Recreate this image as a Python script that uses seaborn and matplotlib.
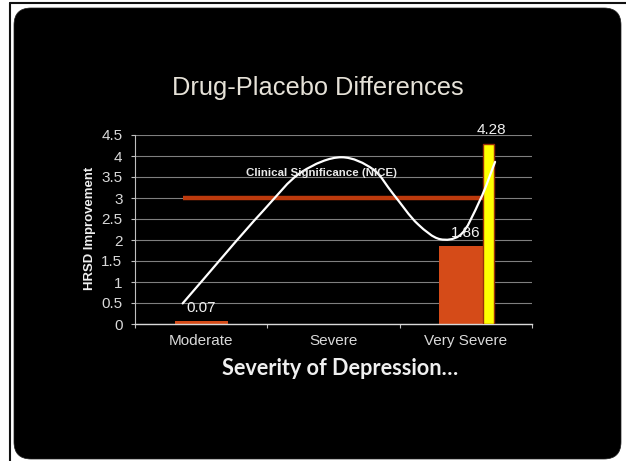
import numpy as np
import pandas as pd
import matplotlib
matplotlib.use("Agg")
import matplotlib.pyplot as plt
from matplotlib.patches import FancyBboxPatch, PathPatch
from matplotlib.path import Path
from matplotlib.lines import Line2D
from matplotlib.transforms import IdentityTransform
import seaborn as sns

# ---- data -------------------------------------------------------------
categories = ["Moderate", "Severe", "Very Severe"]
drug_placebo_diff = [0.07, np.nan, 1.86]
subgroup_diff = 4.28            # most severe subgroup, shown as a yellow bar
nice_threshold = 3.0            # clinical significance criterion (NICE)
nice_span = [-0.14, 2.13]       # extent of the threshold line (category units)
ytick_values = [0, 0.5, 1, 1.5, 2, 2.5, 3, 3.5, 4, 4.5]
ytick_labels = ["0", "0.5", "1", "1.5", "2", "2.5", "3", "3.5", "4", "4.5"]

# hand-drawn trend sketched across the severity range
trend_x = [-0.140, 0.467, 0.760, 1.062, 1.300, 1.450, 1.640, 1.805,
           1.950, 2.107, 2.221]
trend_y = [0.49, 2.69, 3.62, 3.97, 3.68, 3.10, 2.37, 2.02,
           2.10, 2.95, 3.86]

# ---- style ------------------------------------------------------------
sns.set_style("white")
plt.rcParams["font.family"] = ["Liberation Sans", "DejaVu Sans"]

ORANGE = "#d54b18"
RED_LINE = "#bd3a0d"
YELLOW = "#ffff00"
TEXT = "#f0f0f0"
TICK_TEXT = "#d9d9d9"

W, H = 626, 461
fig = plt.figure(figsize=(W / 100, H / 100), dpi=100, facecolor="white")

# slide background: rounded black panel with a thin frame line
panel = FancyBboxPatch((14, 2), 607, 451,
                       boxstyle="round,pad=0,rounding_size=17",
                       transform=IdentityTransform(), facecolor="black",
                       edgecolor="#202020", linewidth=0.5, zorder=-2)
fig.patches.append(panel)
fig.add_artist(Line2D([10, W], [H - 3, H - 3], transform=IdentityTransform(),
                      color="#111111", linewidth=1.5, zorder=-1))
fig.add_artist(Line2D([10, 10], [0, H - 3], transform=IdentityTransform(),
                      color="#111111", linewidth=1.5, zorder=-1))

ax = fig.add_axes([135 / W, 1 - 324 / H, (532 - 135) / W, (324 - 135) / H])
ax.patch.set_visible(False)

df = pd.DataFrame({"severity": categories, "diff": drug_placebo_diff}).dropna()
sns.barplot(data=df, x="severity", y="diff", order=categories, color=ORANGE,
            saturation=1, width=0.4, errorbar=None, linewidth=0, ax=ax,
            zorder=2)

# extra bar for the most severe subgroup
sub_x = 2 + 0.17
ax.bar(sub_x, subgroup_diff, width=0.083, color=YELLOW,
       edgecolor="#9c2e08", linewidth=1.0, zorder=3)

# NICE threshold line
ax.hlines(nice_threshold, nice_span[0], nice_span[1], color=RED_LINE,
          linewidth=3.2, zorder=2.5)
nice_txt = ax.text(0.907, 3.59, "Clinical Significance (NICE)", ha="center",
                   va="center", fontsize=7.3, fontweight="bold",
                   color="#e8e8e8", zorder=5)

# smooth trend curve: centripetal Catmull-Rom through the sketched points,
# computed in pixel-proportional space so the bends keep their shape
sx, sy = 132.3, 42.0
pts = np.column_stack([np.array(trend_x) * sx, np.array(trend_y) * sy])
ext = np.vstack([2 * pts[0] - pts[1], pts, 2 * pts[-1] - pts[-2]])
t = np.concatenate([[0], np.cumsum(np.linalg.norm(np.diff(ext, axis=0),
                                                  axis=1) ** 0.5)])
verts = [tuple(pts[0])]
codes = [Path.MOVETO]
for i in range(1, len(ext) - 2):
    p0, p1, p2, p3 = ext[i - 1], ext[i], ext[i + 1], ext[i + 2]
    t0, t1, t2, t3 = t[i - 1], t[i], t[i + 1], t[i + 2]
    m1 = (t2 - t1) * ((p1 - p0) / (t1 - t0) - (p2 - p0) / (t2 - t0)
                      + (p2 - p1) / (t2 - t1))
    m2 = (t2 - t1) * ((p2 - p1) / (t2 - t1) - (p3 - p1) / (t3 - t1)
                      + (p3 - p2) / (t3 - t2))
    c1 = p1 + m1 / 3.0
    c2 = p2 - m2 / 3.0
    verts += [tuple(c1), tuple(c2), tuple(p2)]
    codes += [Path.CURVE4, Path.CURVE4, Path.CURVE4]
verts = [(vx / sx, vy / sy) for vx, vy in verts]
ax.add_patch(PathPatch(Path(verts, codes), facecolor="none", edgecolor="white",
                       linewidth=1.6, zorder=4, capstyle="round"))

# value labels above the bars
for i, v in enumerate(drug_placebo_diff):
    if np.isnan(v):
        continue
    ax.annotate(f"{v:.2f}", (i, v), xytext=(0, 9.5), textcoords="offset points",
                ha="center", va="center", fontsize=11, color=TEXT, zorder=5)
ax.annotate(f"{subgroup_diff:.2f}", (sub_x, subgroup_diff), xytext=(2, 10),
            textcoords="offset points", ha="center", va="center",
            fontsize=11, color=TEXT, zorder=5, annotation_clip=False)

# axes
ax.set_xlim(-0.5, 2.5)
ax.set_ylim(0, 4.5)
ax.set_yticks(ytick_values)
ax.set_yticklabels(ytick_labels)
ax.set_xticks(range(len(categories)))
ax.set_xticklabels(categories)
ax.set_xticks([-0.5, 0.5, 1.5, 2.5], minor=True)
ax.yaxis.grid(True, color="#7f7f7f", linewidth=0.8)
ax.set_axisbelow(True)
for s in ["top", "right"]:
    ax.spines[s].set_visible(False)
ax.spines["left"].set_color("#bfbfbf")
ax.spines["left"].set_linewidth(0.8)
ax.spines["bottom"].set_color("#d9d9d9")
ax.spines["bottom"].set_linewidth(1.0)
ax.tick_params(axis="y", length=3, width=0.8, color="#bfbfbf", pad=6,
               labelsize=11, labelcolor=TICK_TEXT, left=True)
ax.tick_params(axis="x", which="major", length=0, pad=7, labelsize=11,
               labelcolor=TICK_TEXT, bottom=True)
ax.tick_params(axis="x", which="minor", length=3, width=0.8, color="#bfbfbf",
               bottom=True)

ax.set_ylabel("HRSD Improvement", fontsize=9.5, fontweight="bold", color=TEXT,
              va="center", ha="center")
ax.yaxis.set_label_coords((90 - 135) / 397, (324 - 228) / 189)
ax.set_xlabel("Severity of Depression…", fontsize=15, fontweight="bold",
              color=TEXT, family=["Lato", "DejaVu Sans"], va="baseline",
              ha="center")
ax.xaxis.set_label_coords((340.5 - 135) / 397, (324 - 375) / 189)

title = fig.text(317.5 / W, 1 - 95 / H, "Drug-Placebo Differences",
                 ha="center", va="baseline", fontsize=17, color="#e6e2d8")

# size the headline texts to their intended pixel widths
fig.canvas.draw()
renderer = fig.canvas.get_renderer()
for txt, target, use_height in [(title, 291, False),
                                (ax.xaxis.label, 237, False),
                                (ax.yaxis.label, 123, True),
                                (nice_txt, 150, False)]:
    bb = txt.get_window_extent(renderer)
    size = bb.height if use_height else bb.width
    txt.set_fontsize(txt.get_fontsize() * target / size)

fig.savefig("out.png", dpi=100, facecolor="white")
